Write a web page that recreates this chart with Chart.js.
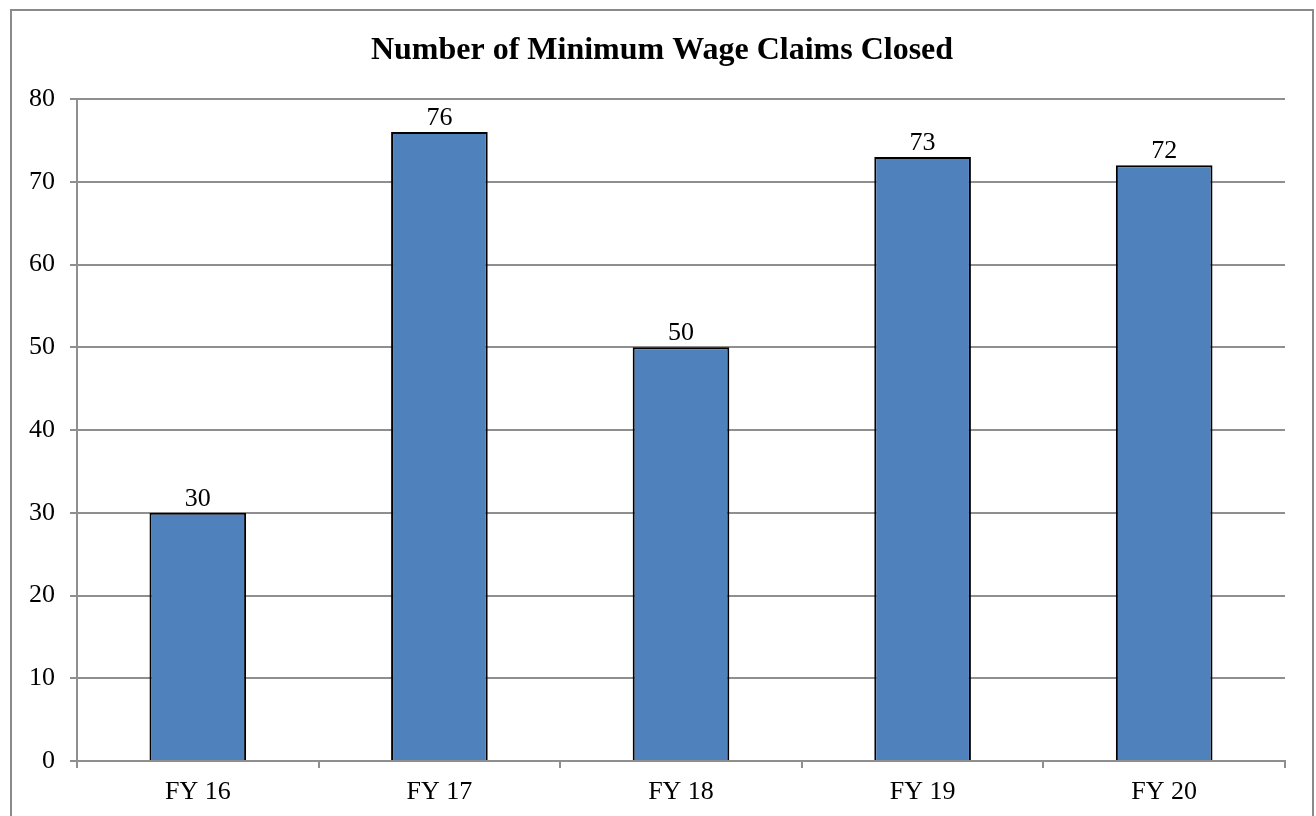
<!DOCTYPE html>
<html>
<head>
<meta charset="utf-8">
<script src="https://cdn.jsdelivr.net/npm/chart.js@4/dist/chart.umd.min.js"></script>
<style>
  html, body { margin: 0; padding: 0; background: #fff; }
  #wrap { width: 1316px; height: 816px; position: relative; }
</style>
</head>
<body>
<div id="wrap"><canvas id="myChart" width="1316" height="816"></canvas></div>
<script>
// Data
const categories = ["FY 16", "FY 17", "FY 18", "FY 19", "FY 20"];
const claimsClosed = [30, 76, 50, 73, 72];
const yTicks = [0, 10, 20, 30, 40, 50, 60, 70, 80];
const chartTitle = 'Number of Minimum Wage Claims Closed';

const serif = '"Liberation Serif", "Times New Roman", serif';
const gridGray = '#8f8f8f';

// outer frame + title, centred on the frame like the spreadsheet chart box
const framePlugin = {
    id: 'frame',
    beforeDraw(chart) {
        const ctx = chart.ctx;
        ctx.save();
        ctx.fillStyle = '#fff';
        ctx.fillRect(0, 0, chart.width, chart.height);
        ctx.strokeStyle = '#8a8a8a';
        ctx.lineWidth = 2;
        ctx.beginPath();
        ctx.moveTo(11, chart.height + 2);
        ctx.lineTo(11, 10);
        ctx.lineTo(1313, 10);
        ctx.lineTo(1313, chart.height + 2);
        ctx.stroke();

        ctx.font = 'bold 32px ' + serif;
        ctx.fillStyle = '#000';
        ctx.textAlign = 'center';
        ctx.textBaseline = 'alphabetic';
        ctx.fillText(chartTitle, 662, 59);
        ctx.restore();
    }
};

// value labels above each bar
const valueLabels = {
    id: 'valueLabels',
    afterDatasetsDraw(chart) {
        const ctx = chart.ctx;
        const meta = chart.getDatasetMeta(0);
        ctx.save();
        ctx.font = '26px ' + serif;
        ctx.fillStyle = '#000';
        ctx.textAlign = 'center';
        ctx.textBaseline = 'alphabetic';
        meta.data.forEach((bar, i) => {
            ctx.fillText(String(claimsClosed[i]), bar.x, bar.y - 7);
        });
        ctx.restore();
    }
};

new Chart(document.getElementById('myChart'), {
    type: 'bar',
    data: {
        labels: categories,
        datasets: [{
            data: claimsClosed,
            backgroundColor: '#4F81BD',
            borderColor: '#000',
            borderWidth: 2,
            barPercentage: 0.4,
            categoryPercentage: 1
        }]
    },
    options: {
        responsive: false,
        animation: false,
        layout: { padding: { top: 99, left: 0, right: 31, bottom: 0 } },
        plugins: {
            legend: { display: false },
            tooltip: { enabled: false },
            title: { display: false }
        },
        scales: {
            x: {
                grid: {
                    offset: true,
                    drawOnChartArea: false,
                    drawTicks: true,
                    tickLength: 7,
                    color: gridGray,
                    lineWidth: 2
                },
                border: { color: gridGray, width: 2 },
                ticks: { color: '#000', font: { family: serif, size: 26 }, padding: 9 },
                afterFit(scale) { scale.height = 55; }
            },
            y: {
                min: 0,
                max: 80,
                afterBuildTicks(scale) { scale.ticks = yTicks.map(v => ({ value: v })); },
                grid: { color: gridGray, lineWidth: 2, tickLength: 7 },
                border: { color: gridGray, width: 2 },
                ticks: { color: '#000', font: { family: serif, size: 26 }, padding: 15 },
                afterFit(scale) { scale.width = 77; }
            }
        }
    },
    plugins: [framePlugin, valueLabels]
});
</script>
</body>
</html>
